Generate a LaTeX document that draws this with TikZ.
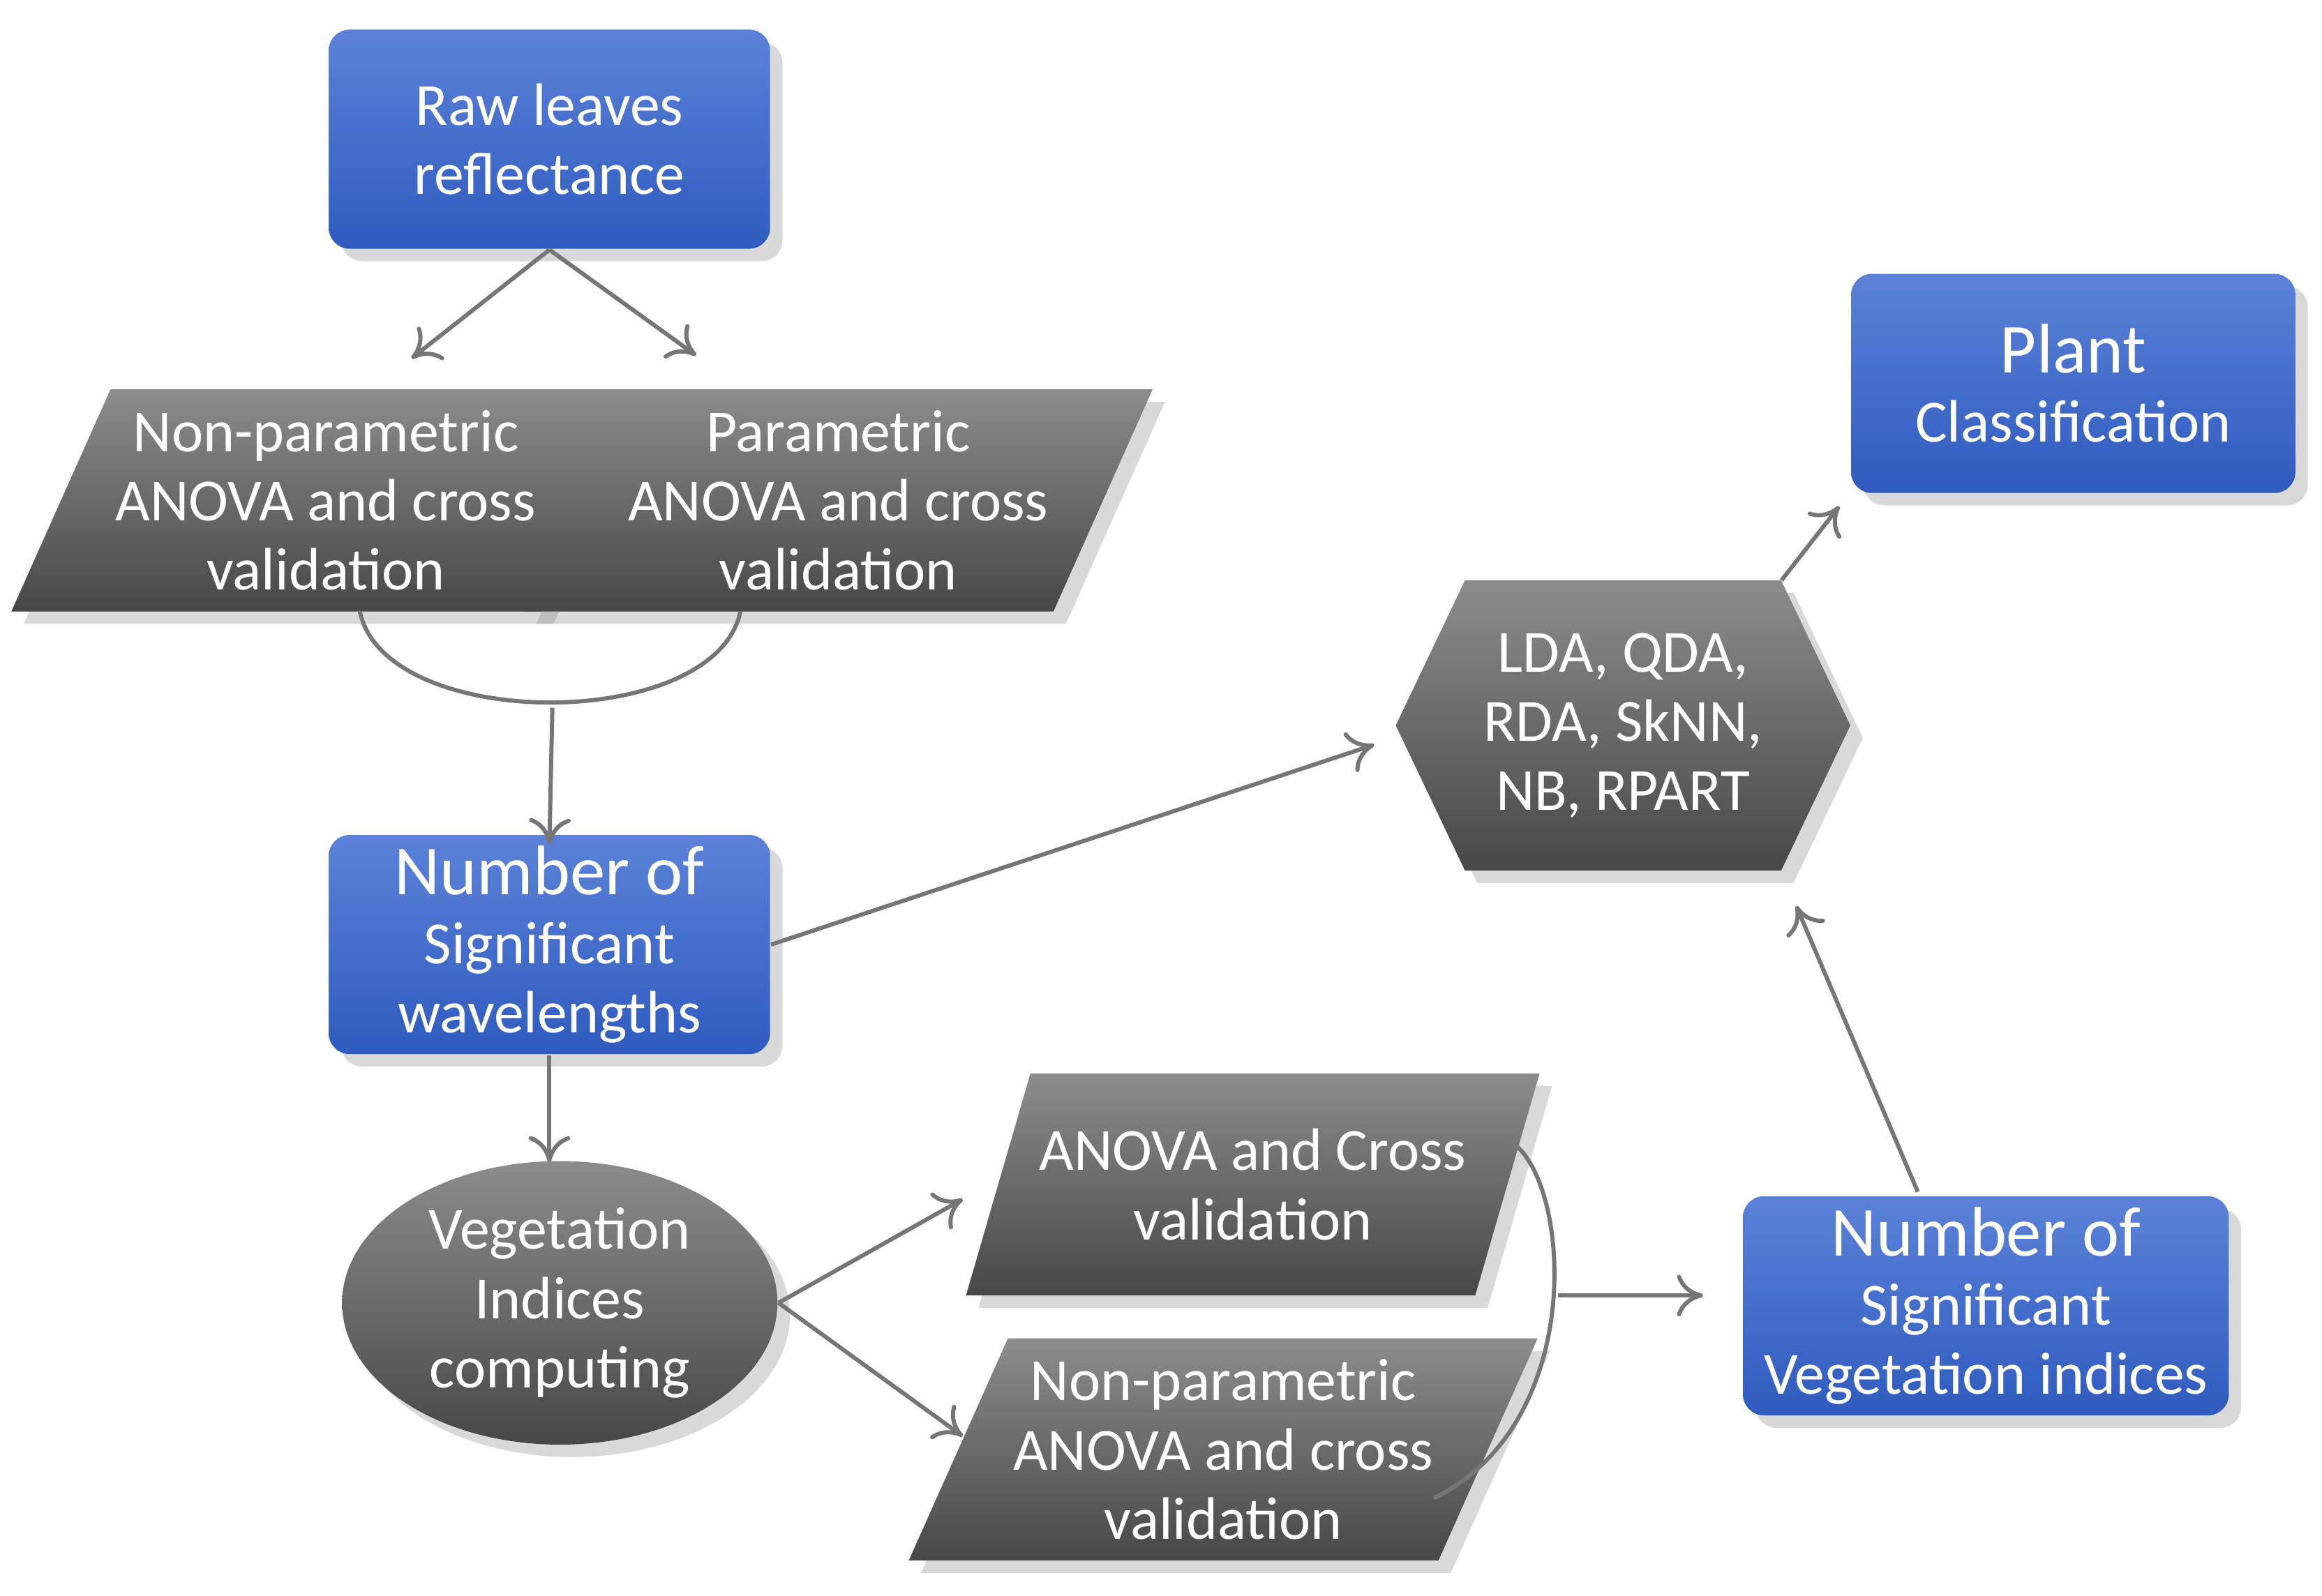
\documentclass[tikz,border=0pt]{standalone}
\usepackage{fontspec}
\setmainfont{Carlito}
\usetikzlibrary{arrows.meta,shapes.geometric,shapes.symbols,shadows,positioning}

\definecolor{bluetop}{HTML}{5C82D8}
\definecolor{bluebot}{HTML}{2E5BBE}
\definecolor{greytop}{HTML}{8C8C8C}
\definecolor{greybot}{HTML}{474747}
\definecolor{linegrey}{HTML}{767676}

\begin{document}
\begin{tikzpicture}[
	font=\fontsize{11.5}{13.3}\selectfont,
	every node/.style={text=white,align=center,inner sep=1pt},
	box/.style={rectangle,rounded corners=4pt,minimum width=2.98cm,minimum height=1.48cm,
		top color=bluetop,bottom color=bluebot,drop shadow={opacity=0.3}},
	para/.style={trapezium,trapezium left angle=62.5,trapezium right angle=117.5,
		trapezium stretches=true,minimum width=3.86cm,minimum height=1.5cm,
		top color=greytop,bottom color=greybot,drop shadow={opacity=0.3}},
	arr/.style={->,draw=linegrey,line width=0.8pt,>={To[length=5pt,width=8pt]}},
	curve/.style={draw=linegrey,line width=0.8pt}]

	\useasboundingbox (0,0) rectangle (15.68,-10.78);

	\node[box] (raw) at (3.71,-0.94) {Raw leaves\\reflectance};
	\node[para] (npleft) at (2.20,-3.38) {Non-parametric\\ANOVA and cross\\validation};
	\node[para] (pright) at (5.66,-3.38) {Parametric\\ANOVA and cross\\validation};
	\node[box] (nwave) at (3.71,-6.38) {\fontsize{13.5}{15.5}\selectfont Number of\\Significant\\wavelengths};
	\node[ellipse,minimum width=2.94cm,minimum height=1.5cm,top color=greytop,bottom color=greybot,
		drop shadow={opacity=0.3}] (vegi) at (3.78,-8.80) {Vegetation\\Indices\\computing};
	\node[para,minimum width=3.88cm] (anova) at (8.46,-8.00) {ANOVA and Cross\\validation};
	\node[para,minimum width=3.88cm] (npbot) at (8.26,-9.79) {Non-parametric\\ANOVA and cross\\validation};
	\node[box,minimum width=3.28cm] (nveg) at (13.41,-8.82) {\fontsize{13.5}{15.5}\selectfont Number of\\Significant\\Vegetation indices};
	\node[signal,signal to=east and west,signal pointer angle=129,minimum width=3.07cm,minimum height=1.96cm,
		top color=greytop,bottom color=greybot,drop shadow={opacity=0.3}] (algo) at (10.96,-4.90) {LDA, QDA,\\RDA, SkNN,\\NB, RPART};
	\node[box,minimum width=3.0cm] (plant) at (14.00,-2.59) {\fontsize{13.5}{20}\selectfont Plant\\Classification};

	\coordinate (joinl) at (3.73,-4.78);
	\coordinate (joinr) at (10.52,-8.75);

	\draw[arr] (raw.south) -- (2.78,-2.42);
	\draw[arr] (raw.south) -- (4.70,-2.40);
	\draw[curve] (2.43,-4.13) .. controls (2.60,-4.95) and (4.83,-4.95) .. (5.00,-4.13);
	\draw[arr] (joinl) -- ([yshift=-2pt]nwave.north);
	\draw[arr] (nwave.south) -- (3.71,-7.85);
	\draw[arr] (vegi.east) -- (6.50,-8.10);
	\draw[arr] (vegi.east) -- (6.50,-9.70);
	\draw[curve] (10.18,-7.70) .. controls (10.60,-7.90) and (10.75,-9.60) .. (9.68,-10.12);
	\draw[arr] (joinr) -- (11.50,-8.75);
	\draw[arr] (nwave.east) -- (9.28,-5.03);
	\draw[arr] (12.95,-8.05) -- (12.13,-6.12);
	\draw[arr] (12.03,-3.92) -- (12.42,-3.42);
\end{tikzpicture}
\end{document}
